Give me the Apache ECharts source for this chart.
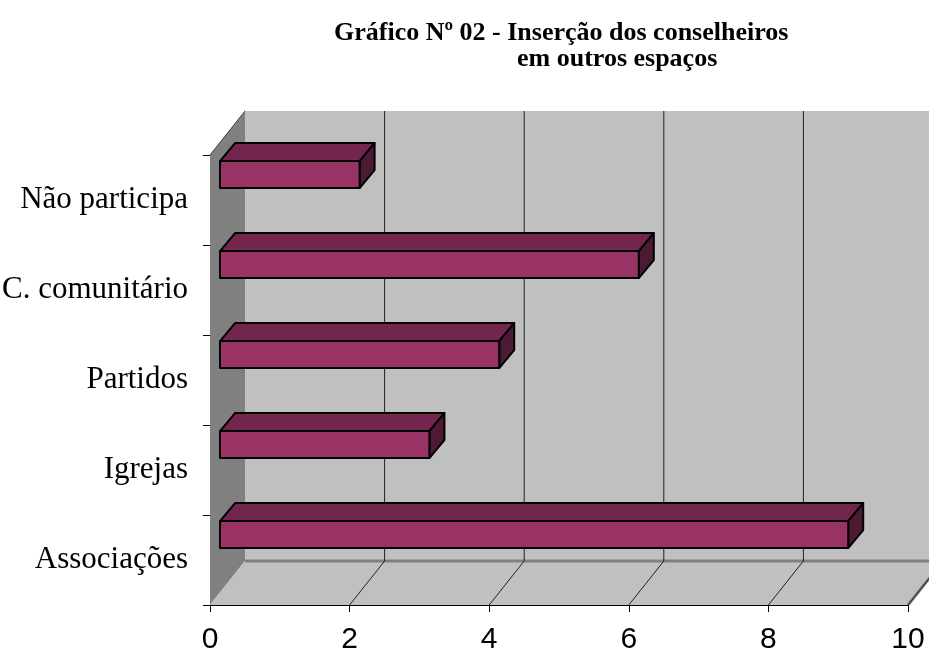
<!DOCTYPE html>
<html>
<head>
<meta charset="utf-8">
<script src="https://cdn.jsdelivr.net/npm/echarts@6/dist/echarts.min.js"></script>
<style>
  html, body { margin: 0; padding: 0; background: #fff; }
  #chart { width: 929px; height: 652px; }
</style>
</head>
<body>
<div id="chart"></div>
<script>
// categories bottom-to-top, as the category axis lays them out
const categories = ["Associações", "Igrejas", "Partidos", "C. comunitário", "Não participa"];
const counts = [9, 3, 4, 6, 2];
const valueTicks = [0, 2, 4, 6, 8, 10];
const titleLines = ["Gráfico Nº 02 - Inserção dos conselheiros", "em outros espaços"];

// fake 3D depth of the plot box
const DEPTH_X = 35;
const DEPTH_Y = 44;

const chart = echarts.init(document.getElementById("chart"));

function renderBackdrop(params, api) {
  const cs = params.coordSys;
  const left = cs.x, top = cs.y, right = cs.x + cs.width, bottom = cs.y + cs.height;
  const children = [
    {
      type: "rect",
      shape: { x: left + DEPTH_X, y: top - DEPTH_Y, width: cs.width, height: cs.height },
      style: { fill: "#c0c0c0" },
    },
    {
      type: "polygon",
      shape: { points: [[left, top], [left + DEPTH_X, top - DEPTH_Y], [left + DEPTH_X, bottom - DEPTH_Y], [left, bottom]] },
      style: { fill: "#808080" },
    },
    {
      type: "polyline",
      shape: { points: [[left, top], [left + DEPTH_X, top - DEPTH_Y]] },
      style: { stroke: "#404040", lineWidth: 1, fill: null },
    },
    {
      type: "polygon",
      shape: { points: [[left, bottom], [left + DEPTH_X, bottom - DEPTH_Y], [right + DEPTH_X, bottom - DEPTH_Y], [right, bottom]] },
      style: { fill: "#c0c0c0" },
    },
    {
      type: "polyline",
      shape: { points: [[left + DEPTH_X, bottom - DEPTH_Y], [right + DEPTH_X, bottom - DEPTH_Y]] },
      style: { stroke: "#808080", lineWidth: 3, fill: null },
    },
    {
      type: "polyline",
      shape: { points: [[right, bottom], [right + DEPTH_X, bottom - DEPTH_Y]] },
      style: { stroke: "#808080", lineWidth: 3, fill: null },
    },
  ];
  valueTicks.slice(1).forEach((v) => {
    const x = api.coord([v, 0])[0];
    children.push({
      type: "polyline",
      shape: { points: [[x + DEPTH_X, top - DEPTH_Y], [x + DEPTH_X, bottom - DEPTH_Y]] },
      style: { stroke: "#202020", lineWidth: 1, fill: null },
    });
    children.push({
      type: "polyline",
      shape: { points: [[x, bottom], [x + DEPTH_X, bottom - DEPTH_Y]] },
      style: { stroke: "#202020", lineWidth: 1, fill: null },
    });
  });
  return { type: "group", children: children };
}

function renderBar(params, api) {
  const idx = api.value(1);
  const start = api.coord([0, idx]);
  const end = api.coord([api.value(0), idx]);
  const band = api.size([0, 1])[1];
  const bandTop = start[1] - band / 2;

  // bar sits a bit behind the front plane
  const shiftX = 10;
  const x0 = start[0] + shiftX;
  const x1 = end[0] + shiftX;
  const y0 = bandTop + band * 0.067;
  const y1 = y0 + band * 0.3;
  const bx = 15, by = 18;
  const edge = { stroke: "#000", lineWidth: 2, lineJoin: "round" };

  return {
    type: "group",
    children: [
      {
        type: "polygon",
        shape: { points: [[x0, y0], [x0 + bx, y0 - by], [x1 + bx, y0 - by], [x1, y0]] },
        style: Object.assign({ fill: "#73264d" }, edge),
      },
      {
        type: "polygon",
        shape: { points: [[x1, y0], [x1 + bx, y0 - by], [x1 + bx, y1 - by], [x1, y1]] },
        style: Object.assign({ fill: "#4d1a33" }, edge),
      },
      {
        type: "rect",
        shape: { x: x0, y: y0, width: x1 - x0, height: y1 - y0 },
        style: Object.assign({ fill: "#993366" }, edge),
      },
    ],
  };
}

chart.setOption({
  animation: false,
  title: [
    {
      text: titleLines[0],
      left: 329,
      top: 15,
      textStyle: { fontFamily: "Liberation Serif", fontWeight: "bold", fontSize: 26, color: "#000" },
    },
    {
      text: titleLines[1],
      left: 512,
      top: 41,
      textStyle: { fontFamily: "Liberation Serif", fontWeight: "bold", fontSize: 26, color: "#000" },
    },
  ],
  grid: { left: 210, right: 21, top: 155, bottom: 47, outerBoundsMode: "none", containLabel: false },
  xAxis: {
    type: "value",
    min: 0,
    max: 10,
    interval: 2,
    axisLine: { show: true, lineStyle: { color: "#000", width: 1 } },
    axisTick: { show: true, length: 7, lineStyle: { color: "#000" } },
    axisLabel: { color: "#000", fontFamily: "Liberation Sans", fontSize: 30, margin: 20 },
    splitLine: { show: false },
  },
  yAxis: {
    type: "category",
    data: categories,
    axisLine: { show: true, lineStyle: { color: "#000", width: 1 } },
    axisTick: { show: true, length: 7, lineStyle: { color: "#000" } },
    axisLabel: { color: "#000", fontFamily: "Liberation Serif", fontSize: 31, margin: 22 },
    splitLine: { show: false },
  },
  series: [
    {
      type: "custom",
      renderItem: renderBackdrop,
      data: [[0, 0]],
      silent: true,
      z: 1,
    },
    {
      type: "custom",
      renderItem: renderBar,
      data: counts.map((v, i) => [v, i]),
      z: 2,
    },
  ],
});
</script>
</body>
</html>
